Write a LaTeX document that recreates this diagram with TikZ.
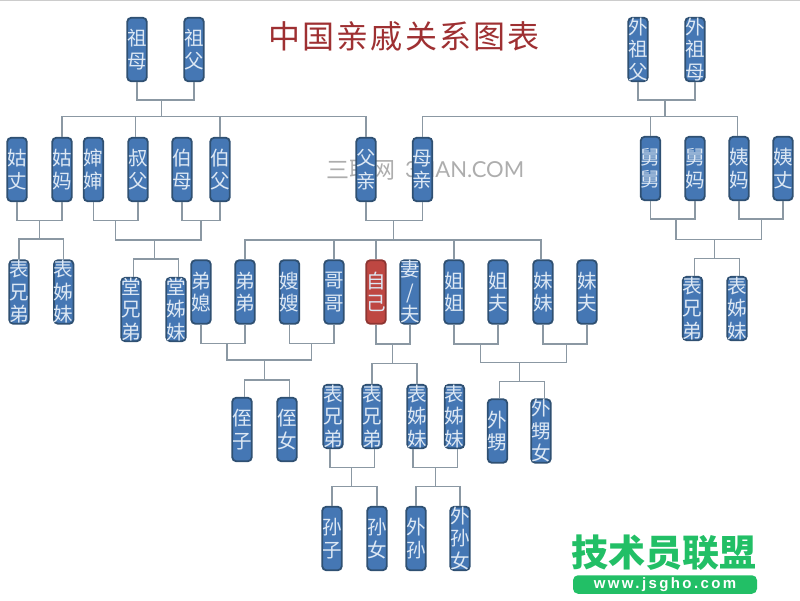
\documentclass[tikz,border=0pt]{standalone}
\usepackage{fontspec}
\setmainfont{Liberation Sans}
\newfontfamily\cjk{Noto Sans CJK SC}
\newfontfamily\titlefont[LetterSpace=7]{Noto Sans CJK SC}
\newfontfamily\markfont{Lato}
\definecolor{boxfill}{HTML}{4577B4}
\definecolor{boxline}{HTML}{2F5072}
\definecolor{boxtext}{HTML}{DDE8F4}
\definecolor{selffill}{HTML}{BE4742}
\definecolor{selfline}{HTML}{8E3532}
\definecolor{linkgray}{HTML}{8B98A3}
\definecolor{titlered}{HTML}{9E3032}
\definecolor{logogreen}{HTML}{22BF66}
\tikzset{
    person/.style={draw=boxline,fill=boxfill,line width=1.8pt,rounded corners=4pt,
        minimum width=19.5pt,minimum height=63.5pt,inner sep=0pt,align=center,
        text=boxtext,font=\cjk\fontsize{19.5}{22.5}\selectfont},
    selfbox/.style={person,draw=selfline,fill=selffill},
    link/.style={draw=linkgray,line width=1.1pt}
}
\begin{document}
\begin{tikzpicture}[x=1pt,y=-1pt]
    \useasboundingbox (0,0) rectangle (800,600);
    \draw[color=black!20,line width=1pt] (0,0.5)--(800,0.5);
    \node[text=titlered,font=\titlefont\fontsize{32}{34}\selectfont] (title) at (404,36) {中国亲戚关系图表};
    \node[text=black!32,font=\cjk\fontsize{23}{24}\selectfont] (markcn) at (361,170) {三联网};
    \node[text=black!32,font=\markfont\fontsize{22}{24}\selectfont,anchor=west,inner sep=0pt] (markla) at (405,170) {3LIAN.COM};

    \node[person] (zumu) at (137,49.5) {祖\\母};
    \node[person] (zufu) at (194,49.5) {祖\\父};
    \node[person] (waizufu) at (638,49.5) {外\\祖\\父};
    \node[person] (waizumu) at (695,49.5) {外\\祖\\母};

    \node[person] (guzhang) at (17,169.5) {姑\\丈};
    \node[person] (guma) at (62,169.5) {姑\\妈};
    \node[person] (shenshen) at (93.5,169.5) {婶\\婶};
    \node[person] (shufu) at (138,169.5) {叔\\父};
    \node[person] (bomu) at (182,169.5) {伯\\母};
    \node[person] (bofu) at (220,169.5) {伯\\父};
    \node[person] (fuqin) at (366,169.5) {父\\亲};
    \node[person] (muqin) at (422.5,169.5) {母\\亲};
    \node[person] (jiujiu) at (650.5,168.5) {舅\\舅};
    \node[person] (jiuma) at (695,168.5) {舅\\妈};
    \node[person] (yima) at (739,168.5) {姨\\妈};
    \node[person] (yizhang) at (783,168.5) {姨\\丈};

    \node[person] (lbiaoxiong) at (19,292) {表\\兄\\弟};
    \node[person] (lbiaomei) at (63.7,292) {表\\姊\\妹};
    \node[person] (tangxiong) at (131,309.5) {堂\\兄\\弟};
    \node[person] (tangmei) at (176,309.5) {堂\\姊\\妹};
    \node[person] (dixi) at (201,292) {弟\\媳};
    \node[person] (didi) at (245,292) {弟\\弟};
    \node[person] (sao) at (289.5,292) {嫂\\嫂};
    \node[person] (gege) at (334,292) {哥\\哥};
    \node[selfbox] (ziji) at (376,292) {自\\己};
    \node[person] (qifu) at (410,292) {妻\\/\\夫};
    \node[person] (jiejie) at (454,292) {姐\\姐};
    \node[person] (jiefu) at (498,292) {姐\\夫};
    \node[person] (meimei) at (543,292) {妹\\妹};
    \node[person] (meifu) at (587,292) {妹\\夫};
    \node[person] (rbiaoxiong) at (692.5,308.5) {表\\兄\\弟};
    \node[person] (rbiaomei) at (737,308.5) {表\\姊\\妹};

    \node[person] (zhizi) at (242,429.5) {侄\\子};
    \node[person] (zhinv) at (287,429.5) {侄\\女};
    \node[person] (xionga) at (333,416.5) {表\\兄\\弟};
    \node[person] (xiongb) at (372,416.5) {表\\兄\\弟};
    \node[person] (meia) at (417,416.5) {表\\姊\\妹};
    \node[person] (meib) at (454.5,416.5) {表\\姊\\妹};
    \node[person] (waisheng) at (497.5,431) {外\\甥};
    \node[person] (waishengnv) at (541,431) {外\\甥\\女};

    \node[person] (sunzi) at (332,538.5) {孙\\子};
    \node[person] (sunnv) at (377,538.5) {孙\\女};
    \node[person] (waisun) at (416,538.5) {外\\孙};
    \node[person] (waisunnv) at (460,538.5) {外\\孙\\女};

    \node[text=logogreen,font=\cjk\bfseries\fontsize{37}{38}\selectfont,inner sep=0pt] (logo) at (664,553) {技术员联盟};
    \node[fill=logogreen,rounded corners=5pt,minimum width=184pt,minimum height=18.5pt,inner sep=0pt,
        text=white,font=\bfseries\fontsize{15}{16}\selectfont] (logourl) at (665,584.5) {\addfontfeature{LetterSpace=16}www.jsgho.com};

    \coordinate (zuj) at (161.5,100);
    \coordinate (zubus) at (161.5,116.5);
    \draw[link] (zumu.south) |- (zuj) -| (zufu.south);
    \draw[link] (zuj) -- (zubus);
    \draw[link] (guma.north) |- (zubus) -| (fuqin.north);
    \draw[link] ([xshift=-2.3]shufu.north) |- (zubus);
    \draw[link] (bofu.north) |- (zubus);

    \coordinate (waizuj) at (665,100);
    \coordinate (waizubus) at (665,116.5);
    \draw[link] (waizufu.south) |- (waizuj) -| (waizumu.south);
    \draw[link] (waizuj) -- (waizubus);
    \draw[link] (muqin.north) |- (waizubus) -| ([xshift=-1.7]yima.north);
    \draw[link] (jiujiu.north) |- (waizubus);

    \coordinate (guj) at (39.3,220.7);
    \coordinate (gubus) at (39.3,239);
    \draw[link] (guzhang.south) |- (guj) -| (guma.south);
    \draw[link] (guj) -- (gubus);
    \draw[link] (lbiaoxiong.north) |- (gubus) -| (lbiaomei.north);

    \coordinate (shuj) at (115.7,220.7);
    \coordinate (boj) at (201,220.7);
    \coordinate (tangj) at (154.3,240);
    \coordinate (tangbus) at (154.3,259);
    \draw[link] (shenshen.south) |- (shuj) -| (shufu.south);
    \draw[link] (bomu.south) |- (boj) -| (bofu.south);
    \draw[link] (shuj) |- (tangj) -| (boj);
    \draw[link] (tangj) -- (tangbus);
    \draw[link] ([xshift=2.3]tangxiong.north) |- (tangbus) -| ([xshift=2.3]tangmei.north);

    \coordinate (fuj) at (393.3,220.7);
    \coordinate (fubus) at (393.3,240);
    \draw[link] (fuqin.south) |- (fuj) -| (muqin.south);
    \draw[link] (fuj) -- (fubus);
    \draw[link] (didi.north) |- (fubus) -| ([xshift=-2]meimei.north);
    \draw[link] (gege.north) |- (fubus);
    \draw[link] (ziji.north) |- (fubus);
    \draw[link] (jiejie.north) |- (fubus);

    \coordinate (jiuj) at (676,219);
    \coordinate (yij) at (761.7,219);
    \coordinate (rj) at (714.3,239.3);
    \coordinate (rbus) at (714.3,258.3);
    \draw[link] (jiujiu.south) |- (jiuj) -| (jiuma.south);
    \draw[link] (yima.south) |- (yij) -| (yizhang.south);
    \draw[link] (jiuj) |- (rj) -| (yij);
    \draw[link] (rj) -- (rbus);
    \draw[link] ([xshift=1.8]rbiaoxiong.north) |- (rbus) -| ([xshift=2.7]rbiaomei.north);

    \coordinate (dij) at (227,343.3);
    \coordinate (gej) at (311.7,343.3);
    \coordinate (zhij) at (264.7,360);
    \coordinate (zhibus) at (264.7,380);
    \draw[link] (dixi.south) |- (dij) -| (didi.south);
    \draw[link] (sao.south) |- (gej) -| (gege.south);
    \draw[link] (dij) |- (zhij) -| (gej);
    \draw[link] (zhij) -- (zhibus);
    \draw[link] ([xshift=2.6]zhizi.north) |- (zhibus) -| ([xshift=2.6]zhinv.north);

    \coordinate (zij) at (392.7,344);
    \coordinate (zibus) at (392.7,363.3);
    \draw[link] (ziji.south) |- (zij) -| (qifu.south);
    \draw[link] (zij) -- (zibus);
    \draw[link] (xiongb.north) |- (zibus) -| (meia.north);

    \coordinate (jiej) at (480.7,344);
    \coordinate (meij) at (566.7,344);
    \coordinate (waij) at (519.7,362.3);
    \coordinate (waibus) at (519.7,381.7);
    \draw[link] (jiejie.south) |- (jiej) -| (jiefu.south);
    \draw[link] (meimei.south) |- (meij) -| (meifu.south);
    \draw[link] (jiej) |- (waij) -| (meij);
    \draw[link] (waij) -- (waibus);
    \draw[link] ([xshift=1.8]waisheng.north) |- (waibus) -| ([xshift=3.3]waishengnv.north);

    \coordinate (sunj) at (351.7,467.7);
    \coordinate (sunbus) at (351.7,486.7);
    \draw[link] ([xshift=-3]xionga.south) |- (sunj) -| ([xshift=2.3]xiongb.south);
    \draw[link] (sunj) -- (sunbus);
    \draw[link] (sunzi.north) |- (sunbus) -| (sunnv.north);

    \coordinate (wsunj) at (435.7,467.7);
    \coordinate (wsunbus) at (435.7,486.7);
    \draw[link] ([xshift=-4]meia.south) |- (wsunj) -| ([xshift=2.8]meib.south);
    \draw[link] (wsunj) -- (wsunbus);
    \draw[link] (waisun.north) |- (wsunbus) -| (waisunnv.north);
\end{tikzpicture}
\end{document}
